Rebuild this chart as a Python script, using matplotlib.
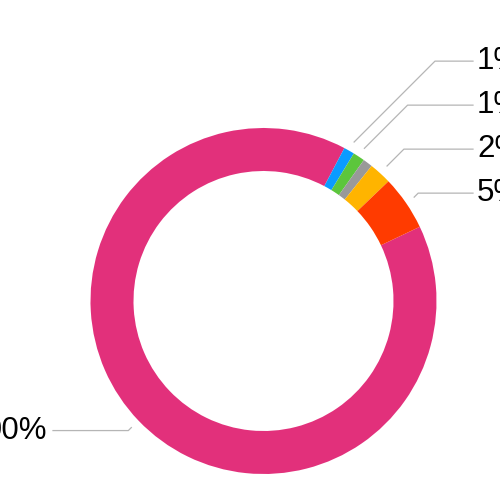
import numpy as np
import matplotlib
matplotlib.use("Agg")
import matplotlib.pyplot as plt

# data: share of each slice (percent), clockwise from the start angle
names = ["Pink", "Blue", "Green", "Gray", "Orange", "Red"]
shares = [89.8, 1.0, 1.1, 0.9, 2.1, 5.1]
labels = ["90%", "1%", "1%", "", "2%", "5%"]
colors = ["#E2307B", "#0A9BFF", "#5CC63C", "#999999", "#FFB400", "#FF3B00"]

plt.rcParams['font.family'] = ['Liberation Sans', 'DejaVu Sans']

fig = plt.figure(figsize=(5, 5), dpi=100)
ax = fig.add_axes([0, 0, 1, 1])

# pixel-like coordinates, y up
cx, cy = 263.5, 199.0
r_out, ring = 173.0, 43.0
start = 25.4  # degrees ccw from +x (64.6 deg clockwise from top)

wedges, _ = ax.pie(shares, colors=colors, startangle=start, counterclock=False,
                   center=(cx, cy), radius=r_out,
                   wedgeprops=dict(width=ring, linewidth=0))

ax.set_xlim(0, 500)
ax.set_ylim(0, 500)
ax.set_aspect("equal")
ax.axis("off")

# leader lines + labels
r_start = 183.0
gap = 44.0
right_end, left_end = 473.0, 53.0
line_col = "#b5b5b5"

items = []
for w, lab in zip(wedges, labels):
    if not lab:
        continue
    mid = np.deg2rad((w.theta1 + w.theta2) / 2)
    sx = cx + r_start * np.cos(mid)
    sy = cy + r_start * np.sin(mid)
    items.append([lab, sx, sy, sy + (4 if sy > cy else -3)])

# stack right-side labels upward so they do not overlap
right = sorted([it for it in items if it[1] > cx], key=lambda t: t[2])
prev = None
for it in right:
    if prev is not None and it[3] < prev + gap:
        it[3] = prev + gap
    prev = it[3]

for lab, sx, sy, ey in items:
    d = abs(ey - sy)
    if sx > cx:
        ex = sx + d
        ax.plot([sx, ex, right_end], [sy, ey, ey], color=line_col, lw=0.9)
        ax.text(right_end + 4, ey, lab, fontsize=22.5, va="center", ha="left",
                color="black")
    else:
        ex = sx - d
        ax.plot([sx, ex, left_end], [sy, ey, ey], color=line_col, lw=0.9)
        ax.text(left_end - 6, ey, lab, fontsize=22.5, va="center", ha="right",
                color="black")

fig.savefig("out.png", dpi=100)
